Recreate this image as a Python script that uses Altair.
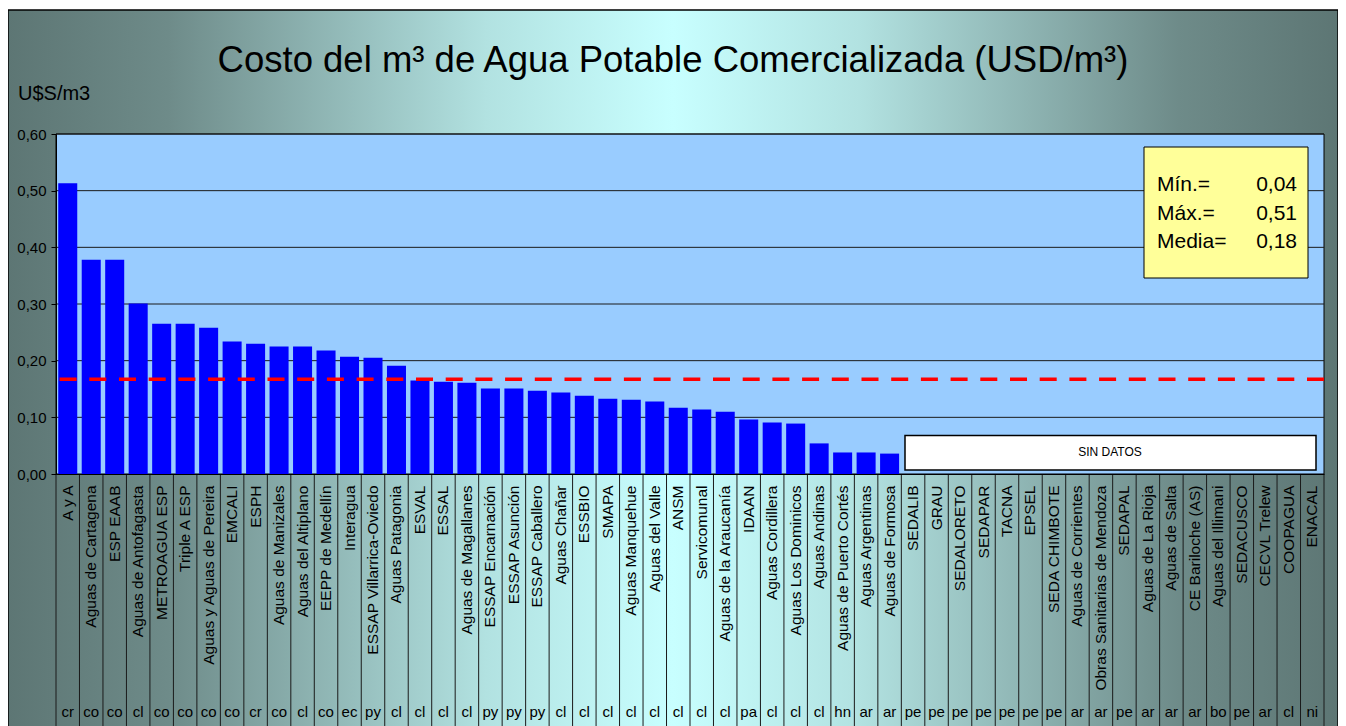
import altair as alt
import pandas as pd

names = ["A y A", "Aguas de Cartagena", "ESP EAAB", "Aguas de Antofagasta", "METROAGUA ESP",
         "Triple A ESP", "Aguas y Aguas de Pereira", "EMCALI", "ESPH", "Aguas de Manizales",
         "Aguas del Altiplano", "EEPP de Medellín", "Interagua", "ESSAP Villarrica-Oviedo",
         "Aguas Patagonia", "ESVAL", "ESSAL", "Aguas de Magallanes", "ESSAP Encarnación",
         "ESSAP Asunción", "ESSAP Caballero", "Aguas Chañar", "ESSBIO", "SMAPA",
         "Aguas Manquehue", "Aguas del Valle", "ANSM", "Servicomunal", "Aguas de la Araucanía",
         "IDAAN", "Aguas Cordillera", "Aguas Los Dominicos", "Aguas Andinas",
         "Aguas de Puerto Cortés", "Aguas Argentinas", "Aguas de Formosa", "SEDALIB", "GRAU",
         "SEDALORETO", "SEDAPAR", "TACNA", "EPSEL", "SEDA CHIMBOTE", "Aguas de Corrientes",
         "Obras Sanitarias  de Mendoza", "SEDAPAL", "Aguas de La Rioja", "Aguas de Salta",
         "CE Bariloche (AS)", "Aguas del Illimani", "SEDACUSCO", "CECVL Trelew", "COOPAGUA",
         "ENACAL"]

codes = ["cr", "co", "co", "cl", "co", "co", "co", "co", "cr", "co", "cl", "co", "ec", "py",
         "cl", "cl", "cl", "cl", "py", "py", "py", "cl", "cl", "cl", "cl", "cl", "cl", "cl",
         "cl", "pa", "cl", "cl", "cl", "hn", "ar", "ar", "pe", "pe", "pe", "pe", "pe", "pe",
         "pe", "ar", "ar", "pe", "ar", "ar", "ar", "bo", "pe", "ar", "cl", "ni"]

values = [0.513, 0.378, 0.378, 0.301, 0.265, 0.265, 0.258, 0.234, 0.230, 0.225, 0.225,
          0.218, 0.207, 0.205, 0.191, 0.165, 0.163, 0.161, 0.151, 0.151, 0.147, 0.144,
          0.138, 0.133, 0.131, 0.128, 0.117, 0.114, 0.110, 0.096, 0.091, 0.089, 0.054,
          0.038, 0.038, 0.036] + [None] * 18

mean_value = 0.167
y_ticks = [0.0, 0.1, 0.2, 0.3, 0.4, 0.5, 0.6]
stat_labels = ["Mín.=", "Máx.=", "Media="]
stat_values = ["0,04", "0,51", "0,18"]
no_data_range = [0.007, 0.068]

title_text = "Costo del m³ de Agua Potable Comercializada (USD/m³)"
unit_text = "U$S/m3"
no_data_text = "SIN DATOS"

FONT = "Liberation Sans"
W, H = 1268, 340

df = pd.DataFrame({"name": names, "code": codes, "value": values})
one = pd.DataFrame({"k": [0]})
grid_df = pd.DataFrame({"t": y_ticks[1:]})
mean_df = pd.DataFrame({"m": [mean_value]})
nd_df = pd.DataFrame({"y0": [no_data_range[0]], "y1": [no_data_range[1]]})

x_axis = alt.Axis(labelAngle=270, labelAlign="right", labelBaseline="middle",
                  labelPadding=11, labelFontSize=15.5, labelFont=FONT, labelColor="black",
                  labelLimit=400, labelOverlap=False, ticks=False, domain=True,
                  domainColor="black", title=None, zindex=1)
y_axis = alt.Axis(values=y_ticks, labelExpr="replace(format(datum.value, '.2f'), '.', ',')",
                  grid=False, domainColor="black", tickColor="black", tickSize=5,
                  labelFontSize=15, labelFont=FONT, labelColor="black", labelPadding=5,
                  title=None, zindex=1)
x_scale = alt.Scale(domain=names, paddingInner=0, paddingOuter=0)
y_scale = alt.Scale(domain=[0, 0.6], nice=False)

X = alt.X("name:N", sort=names, scale=x_scale, axis=x_axis)

BOTTOM = 640

bg = alt.Chart(one).mark_rect(
    color=alt.LinearGradient(
        gradient="linear", x1=0, x2=1, y1=0, y2=0,
        stops=[alt.GradientStop(color="#5D7674", offset=0),
               alt.GradientStop(color="#6E8B89", offset=0.12),
               alt.GradientStop(color="#B2E2E1", offset=0.36),
               alt.GradientStop(color="#C8FFFF", offset=0.5),
               alt.GradientStop(color="#B2E2E1", offset=0.64),
               alt.GradientStop(color="#6E8B89", offset=0.88),
               alt.GradientStop(color="#5D7674", offset=1)])
).encode(x=alt.value(-48), x2=alt.value(1282), y=alt.value(-124), y2=alt.value(BOTTOM))

border = alt.Chart(one).mark_rect(fillOpacity=0, stroke="black", strokeWidth=1.5).encode(
    x=alt.value(-48), x2=alt.value(1282), y=alt.value(-124), y2=alt.value(BOTTOM))

plot_bg = alt.Chart(one).mark_rect(fill="#99CCFF", stroke="black", strokeWidth=1).encode(
    x=alt.value(0), x2=alt.value(W), y=alt.value(0), y2=alt.value(H))

grid = alt.Chart(grid_df).mark_rule(color="#1a1a1a", strokeWidth=1).encode(
    y=alt.Y("t:Q", scale=y_scale, axis=y_axis))

bars = alt.Chart(df).mark_bar(color="#0000FF", width={"band": 0.81}).encode(
    x=X, y=alt.Y("value:Q", scale=y_scale, axis=y_axis))

mean_rule = alt.Chart(mean_df).mark_rule(color="#FF0000", strokeWidth=3.5,
                                         strokeDash=[17, 12.7]).encode(
    y=alt.Y("m:Q", scale=y_scale, axis=y_axis))

seps = alt.Chart(df).mark_rule(color="#1a1a1a", strokeWidth=1).encode(
    x=alt.X("name:N", sort=names, scale=x_scale, axis=x_axis, bandPosition=0),
    y=alt.value(H), y2=alt.value(BOTTOM))
sep_end = alt.Chart(one).mark_rule(color="#1a1a1a", strokeWidth=1).encode(
    x=alt.value(W), y=alt.value(H), y2=alt.value(BOTTOM))

code_text = alt.Chart(df).mark_text(font=FONT, fontSize=15, color="black",
                                    baseline="middle").encode(
    x=X, y=alt.value(578), text="code:N")

stat_box = alt.Chart(one).mark_rect(fill="#FFFF99", stroke="black", strokeWidth=1).encode(
    x=alt.value(1088), x2=alt.value(1252), y=alt.value(13), y2=alt.value(144))
stat_lab = alt.Chart(one).mark_text(font=FONT, fontSize=21, color="black", align="left",
                                    baseline="middle", lineHeight=28.5).encode(
    x=alt.value(1101), y=alt.value(51), text=alt.value(stat_labels))
stat_val = alt.Chart(one).mark_text(font=FONT, fontSize=21, color="black", align="right",
                                    baseline="middle", lineHeight=28.5).encode(
    x=alt.value(1241), y=alt.value(51), text=alt.value(stat_values))

nd_box = alt.Chart(nd_df).mark_rect(fill="white", stroke="black", strokeWidth=1.5).encode(
    x=alt.value(849), x2=alt.value(1260),
    y=alt.Y("y0:Q", scale=y_scale, axis=y_axis), y2="y1:Q")
nd_text = alt.Chart(one).mark_text(font=FONT, fontSize=12, color="black",
                                   baseline="middle").encode(
    x=alt.value(1054), y=alt.value(318), text=alt.value(no_data_text))

title = alt.Chart(one).mark_text(font=FONT, fontSize=36.5, color="black", align="center",
                                 baseline="alphabetic").encode(
    x=alt.value(617), y=alt.value(-62), text=alt.value(title_text))
unit = alt.Chart(one).mark_text(font=FONT, fontSize=20, color="black", align="left",
                                baseline="alphabetic").encode(
    x=alt.value(-38), y=alt.value(-34), text=alt.value(unit_text))

chart = alt.layer(
    bg, border, plot_bg, grid, bars, mean_rule, seps, sep_end, code_text,
    stat_box, stat_lab, stat_val, nd_box, nd_text, title, unit
).properties(
    width=W, height=H,
    autosize=alt.AutoSizeParams(type="none"),
    padding={"left": 48, "top": 126, "right": 14, "bottom": 262},
    background="white",
).configure_view(stroke=None)

chart.save("out.html", embed_options={"renderer": "svg", "actions": False})
